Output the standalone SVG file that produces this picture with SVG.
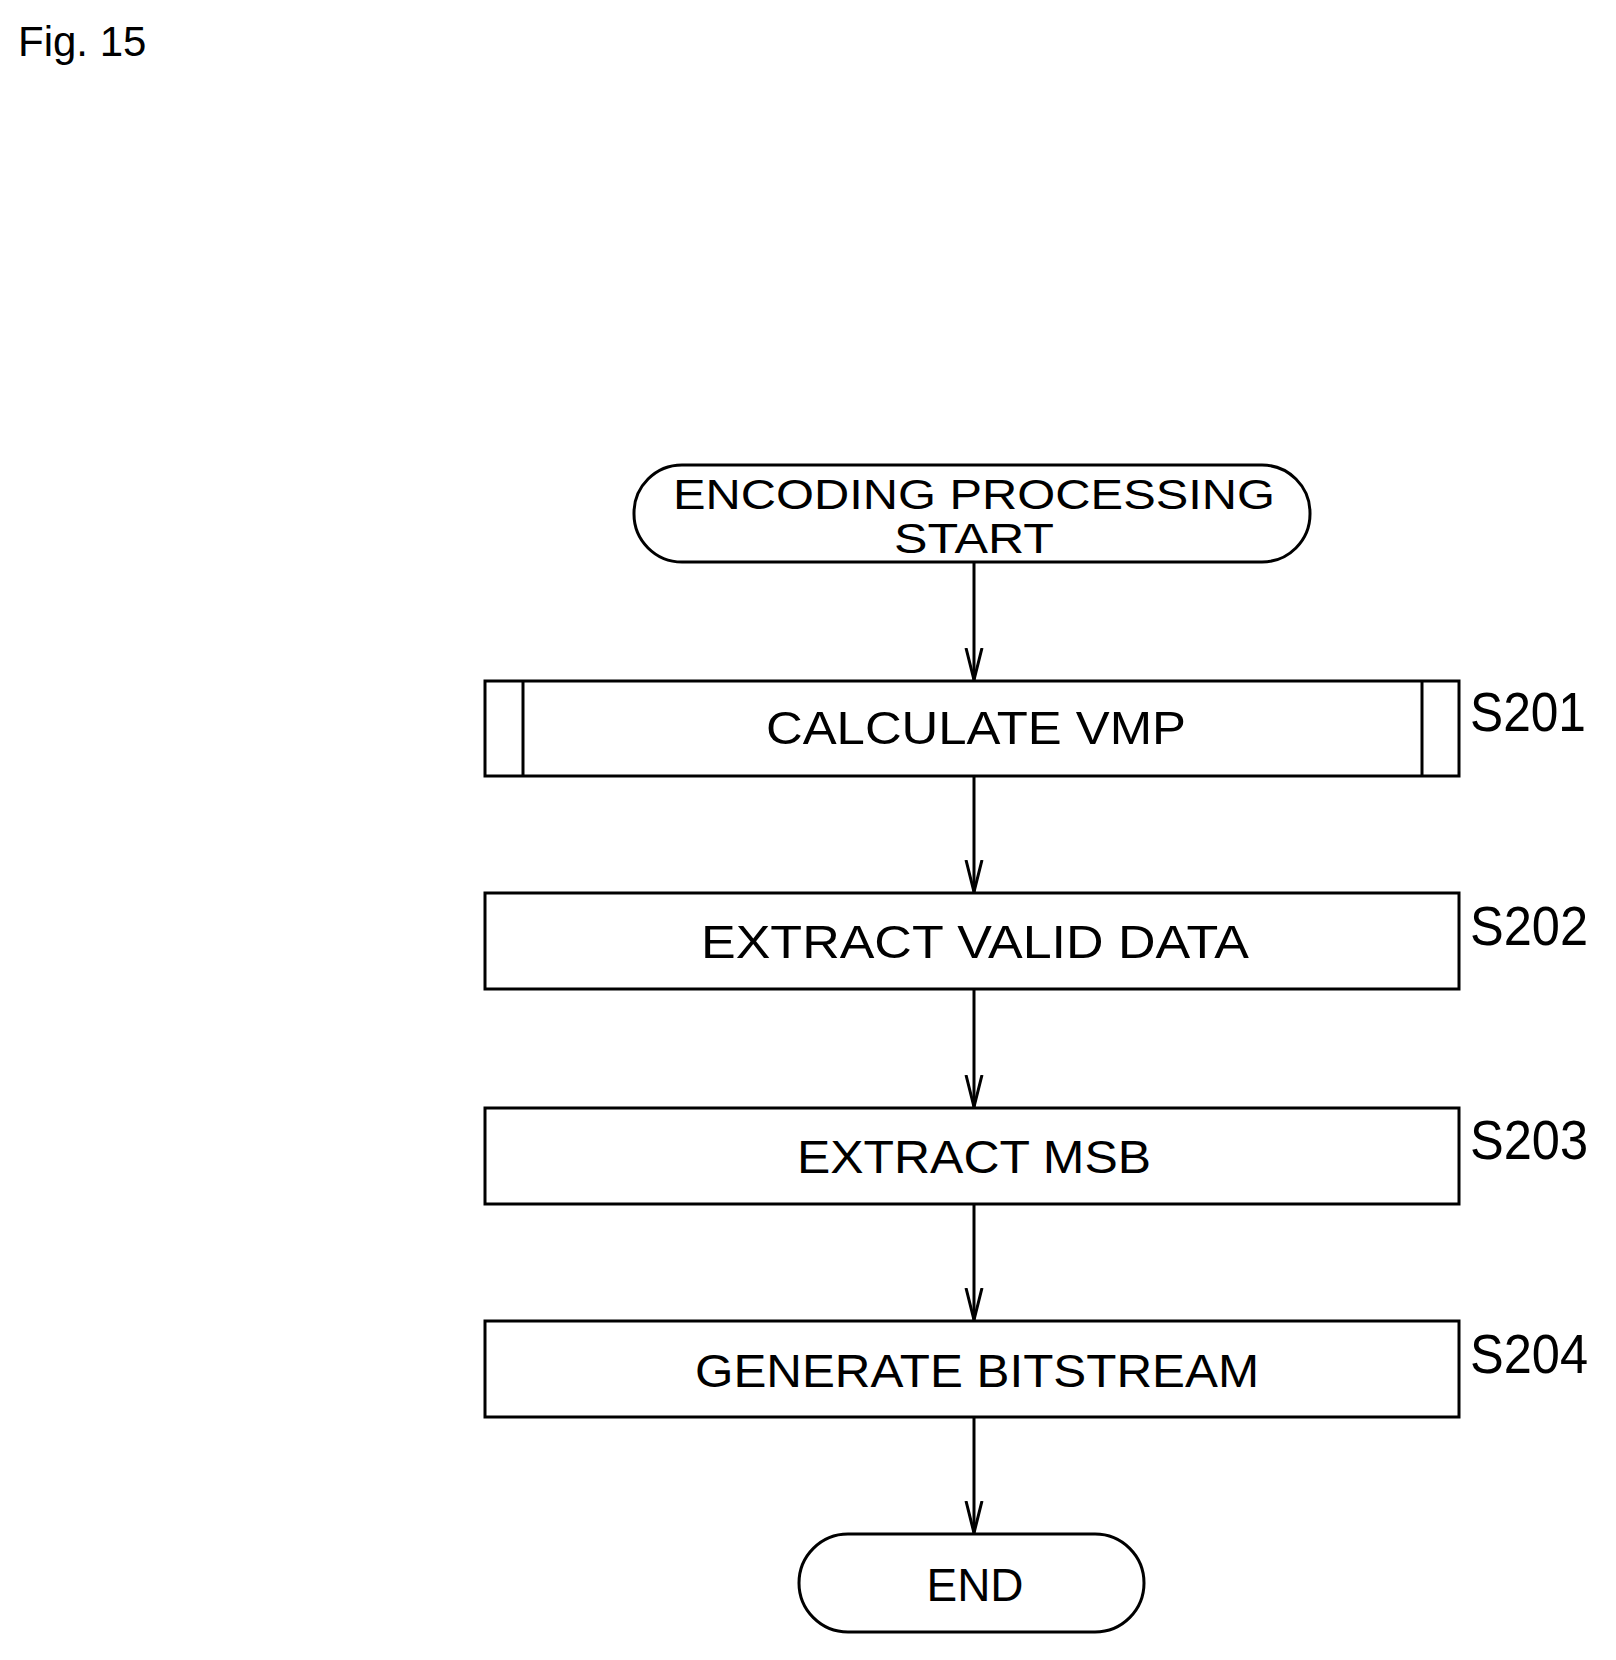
<svg xmlns="http://www.w3.org/2000/svg" width="1616" height="1660" viewBox="0 0 1616 1660">
<style>
.b{fill:#fff;stroke:#000;stroke-width:3}
.t{font-family:"Liberation Sans Narrow","Liberation Sans",Arial,sans-serif;font-size:46px;text-anchor:middle;fill:#000}
.l{font-family:"Liberation Sans Narrow","Liberation Sans",Arial,sans-serif;font-size:56px;fill:#000}
.c{stroke:#000;stroke-width:3;fill:none}
</style>
<defs><marker id="a" markerWidth="34" markerHeight="20" refX="32" refY="10" orient="auto" markerUnits="userSpaceOnUse" viewBox="0 0 34 20"><path d="M0 2 L32 10 L0 18" fill="none" stroke="#000" stroke-width="3"/></marker></defs>
<rect width="1616" height="1660" fill="#fff"/>
<text x="18" y="56" style="font-family:'Liberation Sans',Arial,sans-serif;font-size:42px">Fig. 15</text>
<g id="start"><rect class="b" x="634" y="465" width="676" height="97" rx="48"/>
<text class="t" x="974" y="509" style="font-size:43px" textLength="602" lengthAdjust="spacingAndGlyphs">ENCODING PROCESSING</text>
<text class="t" x="974" y="553" style="font-size:43px" textLength="160" lengthAdjust="spacingAndGlyphs">START</text></g>
<g id="s201"><rect class="b" x="485" y="681" width="974" height="95"/>
<line class="c" x1="523" y1="681" x2="523" y2="776"/><line class="c" x1="1422" y1="681" x2="1422" y2="776"/>
<text class="t" x="976" y="744" textLength="420" lengthAdjust="spacingAndGlyphs">CALCULATE VMP</text>
<text class="l" x="1470" y="731" textLength="116" lengthAdjust="spacingAndGlyphs">S201</text></g>
<g id="s202"><rect class="b" x="485" y="893" width="974" height="96"/>
<text class="t" x="975" y="958" textLength="548" lengthAdjust="spacingAndGlyphs">EXTRACT VALID DATA</text>
<text class="l" x="1470" y="945" textLength="118" lengthAdjust="spacingAndGlyphs">S202</text></g>
<g id="s203"><rect class="b" x="485" y="1108" width="974" height="96"/>
<text class="t" x="974" y="1173" textLength="354" lengthAdjust="spacingAndGlyphs">EXTRACT MSB</text>
<text class="l" x="1470" y="1159" textLength="118" lengthAdjust="spacingAndGlyphs">S203</text></g>
<g id="s204"><rect class="b" x="485" y="1321" width="974" height="96"/>
<text class="t" x="977" y="1387" textLength="564" lengthAdjust="spacingAndGlyphs">GENERATE BITSTREAM</text>
<text class="l" x="1470" y="1373" textLength="118" lengthAdjust="spacingAndGlyphs">S204</text></g>
<g id="end"><rect class="b" x="799" y="1534" width="345" height="98" rx="49"/>
<text class="t" x="975" y="1601" textLength="97" lengthAdjust="spacingAndGlyphs">END</text></g>
<g id="connectors">
<line class="c" x1="974" y1="562" x2="974" y2="680" marker-end="url(#a)"/>
<line class="c" x1="974" y1="776" x2="974" y2="892" marker-end="url(#a)"/>
<line class="c" x1="974" y1="989" x2="974" y2="1107" marker-end="url(#a)"/>
<line class="c" x1="974" y1="1204" x2="974" y2="1320" marker-end="url(#a)"/>
<line class="c" x1="974" y1="1417" x2="974" y2="1533" marker-end="url(#a)"/>
</g>
</svg>
